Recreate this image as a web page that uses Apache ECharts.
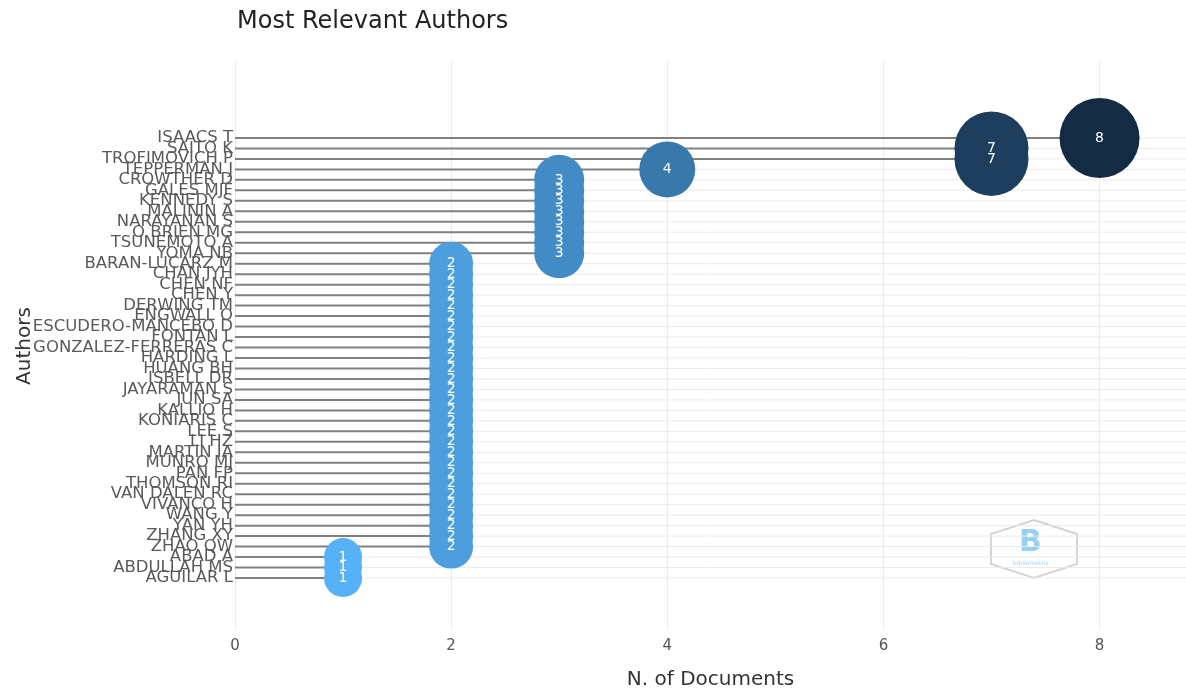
<!DOCTYPE html>
<html>
<head>
<meta charset="utf-8">
<script src="https://cdn.jsdelivr.net/npm/echarts@6/dist/echarts.min.js"></script>
<style>
html,body{margin:0;padding:0;background:#fff;}
#chart{width:1186px;height:691px;}
</style>
</head>
<body>
<div id="chart"></div>
<script>
// Authors listed top to bottom
const authors = ['ISAACS T','SAITO K','TROFIMOVICH P','TEPPERMAN J','CROWTHER D','GALES MJF','KENNEDY S','MALININ A','NARAYANAN S','O BRIEN MG','TSUNEMOTO A','YOMA NB','BARAN-LUCARZ M','CHAN JYH','CHEN NF','CHEN Y','DERWING TM','ENGWALL O','ESCUDERO-MANCEBO D','FONTAN L','GONZALEZ-FERRERAS C','HARDING L','HUANG BH','ISBELL DR','JAYARAMAN S','JUN SA','KALLIO H','KONIARIS C','LEE S','LI HZ','MARTIN IA','MUNRO MJ','PAN FP','THOMSON RI','VAN DALEN RC','VIVANCO H','WANG Y','YAN YH','ZHANG XY','ZHAO QW','ABAD A','ABDULLAH MS','AGUILAR L'];
const documents = [8,7,7,4,3,3,3,3,3,3,3,3,2,2,2,2,2,2,2,2,2,2,2,2,2,2,2,2,2,2,2,2,2,2,2,2,2,2,2,2,1,1,1];
const xTicks = [0,2,4,6,8];

const n = authors.length;
// row index: bottom = 0, top = n-1
const points = authors.map((a, i) => [documents[i], n - 1 - i]);
const rowIdx = authors.map((a, i) => n - 1 - i);
// padded label positions (empty at both ends so no real label is treated as min/max)
const labelPos = [-1].concat(rowIdx.slice().reverse(), [n]);

const chart = echarts.init(document.getElementById('chart'));
const FONT = '"DejaVu Sans", Verdana, sans-serif';

chart.setOption({
  animation: false,
  backgroundColor: '#fff',
  title: {
    text: 'Most Relevant Authors',
    left: 232, top: 5,
    textStyle: {fontFamily: FONT, fontSize: 24, fontWeight: 'normal', color: '#222'}
  },
  grid: {left: 235, right: 0, top: 62, bottom: 61, containLabel: false, outerBoundsMode: 'none'},
  xAxis: {
    type: 'value', min: 0, max: 8.8, interval: 2,
    name: 'N. of Documents', nameLocation: 'middle', nameGap: 40,
    nameTextStyle: {fontFamily: FONT, fontSize: 20, color: '#333'},
    axisLine: {show: false}, axisTick: {show: false},
    axisLabel: {fontFamily: FONT, fontSize: 15, color: '#555', margin: 9,
      formatter: v => xTicks.includes(v) ? String(v) : '', showMaxLabel: false},
    splitLine: {show: true, lineStyle: {color: '#ebebeb', width: 1}}
  },
  yAxis: {
    type: 'value', min: -4.96, max: 49.25,
    name: 'Authors', nameLocation: 'middle', nameGap: 200, nameRotate: 90,
    nameMoveOverlap: false,
    nameTextStyle: {fontFamily: FONT, fontSize: 20, color: '#333'},
    axisLine: {show: false}, axisTick: {show: false},
    splitLine: {show: false},
    axisLabel: {
      customValues: labelPos,
      hideOverlap: false,
      fontFamily: FONT, fontSize: 16.5, color: '#5a5a5a', margin: 2,
      verticalAlign: 'middle',
      formatter: v => {
        const k = Math.round(v);
        return (k >= 0 && k < n) ? authors[n - 1 - k] : '';
      }
    }
  },
  visualMap: {
    show: false, type: 'continuous', min: 1, max: 8, dimension: 0, seriesIndex: 2,
    inRange: {color: ['#56B1F7', '#132B43']}
  },
  series: [
    {
      // horizontal row gridlines
      type: 'custom', silent: true, z: 1,
      data: rowIdx.map(r => [0, r]),
      renderItem: (params, api) => {
        const p = api.coord([0, api.value(1)]);
        const cs = params.coordSys;
        return {type: 'line', shape: {x1: cs.x, y1: p[1], x2: cs.x + cs.width, y2: p[1]},
          style: {stroke: '#ebebeb', lineWidth: 1}};
      }
    },
    {
      // segments from 0 to value
      type: 'custom', silent: true, z: 2,
      data: points,
      renderItem: (params, api) => {
        const a = api.coord([0, api.value(1)]);
        const b = api.coord([api.value(0), api.value(1)]);
        return {type: 'line', shape: {x1: a[0], y1: a[1], x2: b[0], y2: b[1]},
          style: {stroke: '#808080', lineWidth: 2}};
      }
    },
    {
      type: 'scatter', z: 3,
      data: points,
      symbol: 'circle',
      symbolSize: v => 32 + 6 * v[0],
      itemStyle: {opacity: 1},
      label: {
        show: true, position: 'inside', color: '#fff',
        fontFamily: FONT, fontSize: 14,
        formatter: p => String(p.value[0])
      }
    }
  ],
  graphic: [
    {
      type: 'group', left: 990, top: 519, silent: true,
      children: [
        {type: 'polygon', shape: {points: [[43,0],[86,14],[86,44],[43,58],[0,44],[0,14]]},
          style: {fill: 'rgba(255,255,255,0.6)', stroke: '#d4d4d4', lineWidth: 2}},
        {type: 'text', left: 28, top: 8, style: {text: 'B', fill: '#7cc6ef', font: 'bold 30px "DejaVu Sans", sans-serif', opacity: 0.8}},
        {type: 'text', left: 22, top: 40, style: {text: 'bibliometrix', fill: '#9fd3f2', font: '6px "DejaVu Sans", sans-serif'}}
      ]
    }
  ]
});
</script>
</body>
</html>
